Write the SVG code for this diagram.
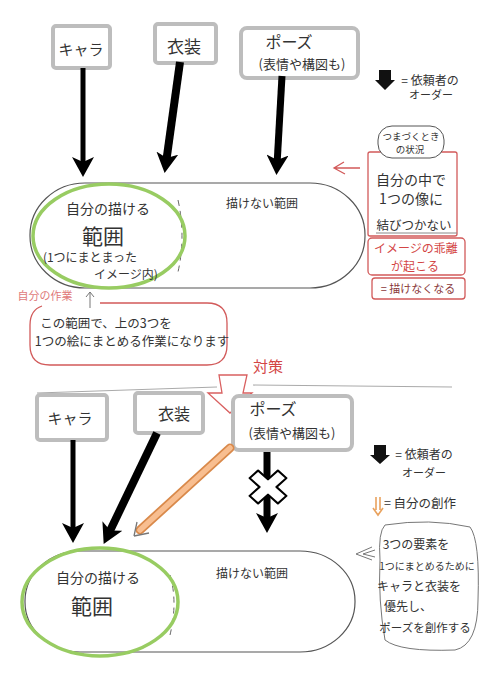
<svg xmlns="http://www.w3.org/2000/svg" width="481" height="680" viewBox="0 0 481 680">
<defs>
<style>
text{font-family:"Noto Sans CJK JP","Noto Sans",sans-serif;fill:#333;text-anchor:middle;dominant-baseline:central}
.card{fill:#fff;stroke:#bdbdbd;stroke-width:4}
.range{fill:none;stroke:#555;stroke-width:1.2}
.green{fill:none;stroke:#98cc62;stroke-width:3.5}
.shaft{stroke:#000;fill:none;stroke-linecap:butt}
.redline{fill:none;stroke:#d25a5a;stroke-width:1.3}
.thin{fill:none;stroke:#777;stroke-width:1}
</style>
<marker id="head" viewBox="0 0 20 22" refX="10" refY="11" markerWidth="20" markerHeight="22" markerUnits="userSpaceOnUse" orient="auto">
<path d="M0,0 L20,11 L0,22 L5,11 z" fill="#000"/>
</marker>
</defs>
<rect width="481" height="680" fill="#fff"/>

<!-- ===== Top section ===== -->
<g id="range-top">
<rect class="range" x="30" y="183" width="335" height="105" rx="55" ry="52"/>
<path d="M178,200 Q186,236 178,272" fill="none" stroke="#666" stroke-width="1" stroke-dasharray="6 5"/>
<ellipse class="green" cx="109" cy="236" rx="76" ry="52"/>
<text x="108" y="208" font-size="14">自分の描ける</text>
<text x="103" y="235" font-size="21">範囲</text>
<text x="90" y="256" font-size="12">(1つにまとまった</text>
<text x="126" y="273" font-size="12">イメージ内)</text>
<text x="262" y="202" font-size="12">描けない範囲</text>
</g>

<g id="card-chara">
<rect class="card" x="53" y="26" width="57" height="42" rx="3"/>
<text x="81" y="48" font-size="15">キャラ</text>
</g>
<g id="card-costume">
<rect class="card" x="155" y="24" width="61" height="39" rx="3"/>
<text x="184" y="45" font-size="17">衣装</text>
</g>
<g id="card-pose">
<rect class="card" x="241" y="28" width="117" height="50" rx="6"/>
<text x="289" y="41" font-size="16">ポーズ</text>
<text x="302" y="63" font-size="13">(表情や構図も)</text>
</g>

<g id="connectors-top">
<line class="shaft" x1="83" y1="68" x2="83" y2="167" stroke-width="5" marker-end="url(#head)"/>
<line class="shaft" x1="180" y1="62" x2="166" y2="163" stroke-width="8" marker-end="url(#head)"/>
<line class="shaft" x1="282" y1="76" x2="277" y2="165" stroke-width="7" marker-end="url(#head)"/>
</g>

<g id="legend-top">
<path d="M379,70 L391,70 L391,80 L395,80 L385,90 L375,80 L379,80 z" fill="#111"/>
<text x="430" y="79" font-size="12">= 依頼者の</text>
<text x="431" y="94" font-size="11">オーダー</text>
</g>

<g id="note-stuck">
<path class="redline" d="M360,168 L334,168 M344,162 L334,168 L345,174"/>
<rect class="redline" x="368" y="152" width="89" height="84" rx="2"/>
<rect x="378" y="126" width="66" height="32" rx="14" fill="#fff" stroke="#555" stroke-width="1"/>
<text x="411" y="136" font-size="9.5">つまづくとき</text>
<text x="410" y="149" font-size="9.5">の状況</text>
<text x="411" y="179" font-size="14">自分の中で</text>
<text x="411" y="198" font-size="14">1つの像に</text>
<text x="414" y="224" font-size="12.5">結びつかない</text>
<line x1="376" y1="233" x2="457" y2="233" stroke="#888" stroke-width="1"/>
<rect class="redline" x="368" y="238" width="97" height="37" rx="4"/>
<text x="416" y="247" font-size="12" style="fill:#d34545">イメージの乖離</text>
<text x="415" y="265" font-size="12" style="fill:#d34545">が起こる</text>
<rect class="redline" x="372" y="278" width="93" height="21" rx="3"/>
<text x="418" y="288" font-size="11" style="fill:#8a3a3a">= 描けなくなる</text>
</g>

<g id="note-work">
<text x="45" y="295" font-size="11" style="fill:#e07a7a">自分の作業</text>
<path class="thin" d="M90,308 L90,292 M86,297 L90,292 L94,297"/>
<path class="redline" d="M100,303 L207,303 Q227,303 227,323 L227,345 Q227,365 207,365 L50,365 Q30,365 30,345 L30,325 Q30,310 42,306"/>
<text x="106" y="322" font-size="12.5">この範囲で、上の3つを</text>
<text x="132" y="340" font-size="12.5">1つの絵にまとめる作業になります</text>
</g>

<!-- ===== Divider ===== -->
<g id="divider">
<path d="M37,393 L217,387 M253,385 L452,387" fill="none" stroke="#aaa" stroke-width="1.2"/>
<text x="268" y="365" font-size="15" style="fill:#d34545">対策</text>
<path d="M219,375 L247,375 L243,393 L252,393 L230,413 L208,393 L222,393 z" fill="#fff" stroke="#d96060" stroke-width="1.3"/>
</g>

<!-- ===== Bottom section ===== -->
<g id="range-bottom">
<rect class="range" x="25" y="551" width="330" height="101" rx="55" ry="50"/>
<path d="M170,575 Q178,602 170,635" fill="none" stroke="#666" stroke-width="1" stroke-dasharray="6 5"/>
<ellipse class="green" cx="100" cy="602" rx="78" ry="54"/>
<text x="98" y="577" font-size="14">自分の描ける</text>
<text x="92" y="605" font-size="21">範囲</text>
<text x="252" y="572" font-size="12">描けない範囲</text>
</g>

<g id="card-chara-2">
<rect class="card" x="37" y="395" width="70" height="45" rx="3"/>
<text x="70" y="417" font-size="15">キャラ</text>
</g>
<g id="card-costume-2">
<rect class="card" x="135" y="393" width="68" height="40" rx="3"/>
<text x="174" y="413" font-size="16">衣装</text>
</g>
<g id="card-pose-2">
<rect class="card" x="233" y="396" width="119" height="54" rx="6"/>
<text x="273" y="408" font-size="16">ポーズ</text>
<text x="292" y="432" font-size="13">(表情や構図も)</text>
</g>

<g id="connectors-bottom">
<line class="shaft" x1="73" y1="440" x2="73" y2="533" stroke-width="5" marker-end="url(#head)"/>
<line class="shaft" x1="157" y1="433" x2="108" y2="535" stroke-width="8" marker-end="url(#head)"/>
<line class="shaft" x1="267" y1="452" x2="267" y2="523" stroke-width="7" marker-end="url(#head)"/>
<line x1="230" y1="448" x2="140" y2="530" stroke="#d9894a" stroke-width="9" stroke-linecap="round"/>
<line x1="230" y1="448" x2="140" y2="530" stroke="#f8be90" stroke-width="5.5" stroke-linecap="round"/>
<path d="M134,536 L137,522 M134,536 L149,533" fill="none" stroke="#777" stroke-width="1.3"/>
<path d="M-6,-20 L6,-20 L6,-6 L20,-6 L20,6 L6,6 L6,20 L-6,20 L-6,6 L-20,6 L-20,-6 L-6,-6 z" transform="translate(268,487) scale(1,0.9) rotate(45)" fill="#fff" stroke="#000" stroke-width="2.2" stroke-linejoin="round"/>
</g>

<g id="legend-bottom">
<path d="M374,445 L386,445 L386,455 L390,455 L380,464 L370,455 L374,455 z" fill="#111"/>
<text x="424" y="453" font-size="12">= 依頼者の</text>
<text x="424" y="472" font-size="11">オーダー</text>
<path d="M376,497 L376,510 M380,497 L380,510 M373,508 L378,515 L383,508" fill="none" stroke="#e9a25e" stroke-width="1.6"/>
<text x="420" y="502" font-size="12.5">= 自分の創作</text>
</g>

<g id="note-solution">
<path class="thin" d="M372,547 L356,554 L372,560 M375,550 L363,554 L375,557"/>
<path d="M385,525 Q430,518 470,527 Q480,540 478,600 Q478,645 455,650 Q400,652 385,640 Q378,600 380,560 Q378,532 385,525 z" fill="none" stroke="#777" stroke-width="1"/>
<text x="416" y="543" font-size="12">3つの要素を</text>
<text x="427" y="565" font-size="10">1つにまとめるために</text>
<text x="419" y="585" font-size="12">キャラと衣装を</text>
<text x="408" y="605" font-size="12">優先し、</text>
<text x="425" y="627" font-size="11.5">ポーズを創作する</text>
</g>
</svg>
